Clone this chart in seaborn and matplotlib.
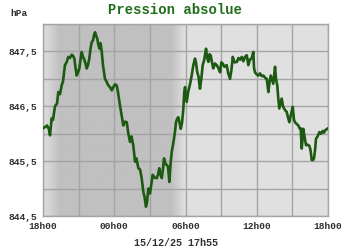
import numpy as np
import pandas as pd
import matplotlib
matplotlib.use("Agg")
import matplotlib.pyplot as plt
import seaborn as sns

# hours since 18h00 (15/12 17h55 reference span)
hours = [0.0, 0.17, 0.34, 0.5, 0.59, 0.73, 0.84, 1.01, 1.18, 1.29, 1.43, 1.57, 1.68, 1.85, 1.98,
         2.13, 2.27, 2.42, 2.53, 2.64, 2.74, 2.84, 2.95, 3.06, 3.16, 3.26, 3.37, 3.45, 3.58, 3.68,
         3.79, 3.90, 4.0, 4.10, 4.21, 4.30, 4.38, 4.46, 4.57, 4.66, 4.76, 4.84, 4.94, 5.05, 5.22,
         5.35, 5.50, 5.64, 5.79, 5.92, 6.06, 6.21, 6.32, 6.48, 6.61, 6.76, 6.91, 7.05, 7.19, 7.33,
         7.45, 7.60, 7.75, 7.87, 8.03, 8.17, 8.31, 8.45, 8.55, 8.67, 8.76, 8.87, 9.01, 9.14, 9.24,
         9.39, 9.58, 9.68, 9.79, 9.90, 10.0, 10.1, 10.19, 10.32, 10.42, 10.53, 10.64, 10.74, 10.84,
         10.95, 11.03, 11.12, 11.20, 11.31, 11.40, 11.50, 11.60, 11.71, 11.82, 11.89, 11.96, 12.10,
         12.24, 12.38, 12.52, 12.66, 12.80, 12.88, 12.99, 13.09, 13.22, 13.33, 13.45, 13.58, 13.73,
         13.81, 13.92, 14.02, 14.12, 14.23, 14.34, 14.48, 14.63, 14.76, 14.91, 15.02, 15.13, 15.28,
         15.47, 15.60, 15.75, 15.86, 15.98, 16.13, 16.33, 16.46, 16.60, 16.74, 16.87, 17.01, 17.16,
         17.29, 17.43, 17.58, 17.71, 17.77, 17.85, 18.0, 18.13, 18.27, 18.42, 18.56, 18.70, 18.84,
         18.98, 19.08, 19.18, 19.29, 19.39, 19.54, 19.62, 19.73, 19.81, 19.90, 20.0, 20.10, 20.21,
         20.30, 20.42, 20.52, 20.63, 20.74, 20.88, 21.03, 21.14, 21.22, 21.35, 21.50, 21.60, 21.70,
         21.79, 21.92, 22.02, 22.15, 22.27, 22.43, 22.53, 22.63, 22.74, 22.82, 22.91, 22.99, 23.12,
         23.27, 23.41, 23.56, 23.67, 23.75, 23.88, 24.0]
pressure = [846.10, 846.12, 846.15, 846.08, 845.97, 846.28, 846.25, 846.50, 846.55, 846.76, 846.72,
            846.88, 846.95, 847.25, 847.30, 847.40, 847.38, 847.44, 847.42, 847.37, 847.20, 847.06,
            847.12, 847.19, 847.35, 847.49, 847.40, 847.37, 847.28, 847.19, 847.25, 847.37, 847.55,
            847.67, 847.70, 847.80, 847.85, 847.80, 847.73, 847.62, 847.55, 847.65, 847.51, 847.25,
            847.00, 846.95, 846.88, 846.85, 846.79, 846.85, 846.90, 846.88, 846.75, 846.52, 846.35,
            846.15, 846.22, 846.21, 846.00, 845.85, 845.95, 845.79, 845.49, 845.55, 845.37, 845.35,
            845.19, 844.94, 844.85, 844.67, 844.75, 845.00, 844.91, 845.10, 845.25, 845.20, 845.19,
            845.25, 845.37, 845.25, 845.19, 845.35, 845.55, 845.45, 845.43, 845.40, 845.12, 845.45,
            845.67, 845.80, 845.91, 846.05, 846.21, 846.28, 846.30, 846.20, 846.09, 846.20, 846.46,
            846.75, 846.85, 846.58, 846.78, 846.90, 847.06, 847.25, 847.37, 847.30, 847.12, 847.05,
            846.82, 847.00, 847.25, 847.35, 847.55, 847.40, 847.31, 847.45, 847.43, 847.30, 847.19,
            847.28, 847.25, 847.20, 847.12, 847.30, 847.28, 847.22, 847.25, 847.10, 847.00, 847.15,
            847.40, 847.30, 847.31, 847.38, 847.35, 847.40, 847.32, 847.40, 847.43, 847.25, 847.35,
            847.38, 847.49, 847.20, 847.12, 847.08, 847.06, 847.10, 847.05, 847.06, 847.02, 847.00,
            846.76, 846.95, 847.06, 846.98, 846.91, 847.22, 847.00, 846.88, 846.65, 846.46, 846.55,
            846.64, 846.50, 846.46, 846.42, 846.40, 846.30, 846.21, 846.35, 846.49, 846.25, 846.21,
            846.18, 846.15, 846.10, 846.10, 845.73, 846.09, 845.95, 845.79, 845.80, 845.78, 845.70,
            845.52, 845.52, 845.55, 845.70, 845.91, 845.95, 846.03, 846.00, 846.05, 846.02, 846.06,
            846.08, 846.10]

x_tick_pos = [0, 6, 12, 18, 24]
x_tick_labels = ["18h00", "00h00", "06h00", "12h00", "18h00"]
y_tick_pos = [844.5, 845.5, 846.5, 847.5]
y_tick_labels = ["844,5", "845,5", "846,5", "847,5"]
title = "Pression absolue"
unit = "hPa"
stamp = "15/12/25 17h55"

df = pd.DataFrame({"h": hours, "p": pressure})

sns.set_theme(style="white")
plt.rcParams["font.family"] = ["Liberation Mono", "DejaVu Sans Mono"]
plt.rcParams["font.weight"] = "bold"

fig = plt.figure(figsize=(3.5, 2.5), dpi=100)
ax = fig.add_axes([43/350, 34/250, 285/350, 192/250])

day = np.array([0xe0, 0xe0, 0xe0]) / 255
night = np.array([0xc0, 0xc0, 0xc0]) / 255
xs = np.linspace(0, 24, 600)
w = np.zeros_like(xs)
w = np.where(xs < 1.4, xs / 1.4, w)
w = np.where((xs >= 1.4) & (xs < 10.8), 1.0, w)
w = np.where((xs >= 10.8) & (xs < 12.0), 1 - (xs - 10.8) / 1.2, w)
w = np.where(xs >= 12.0, 0.0, w)
img = (day[None, :] * (1 - w[:, None]) + night[None, :] * w[:, None])[None, :, :]
ax.imshow(img, extent=[0, 24, 844.5, 848.0], aspect="auto", zorder=0, interpolation="bilinear")

sns.lineplot(data=df, x="h", y="p", ax=ax, color="#1b5a10", linewidth=1.9, zorder=3)

ax.set_xlim(0, 24)
ax.set_ylim(844.5, 848.0)
ax.set_xticks(x_tick_pos)
ax.set_xticklabels(x_tick_labels)
ax.set_xticks(np.arange(0, 25, 3), minor=True)
ax.set_yticks(y_tick_pos)
ax.set_yticklabels(y_tick_labels)
ax.set_yticks(np.arange(844.5, 848.01, 0.5), minor=True)
ax.grid(True, which="both", color="#a4a4a4", linewidth=1.0, zorder=1)
for gl in ax.get_xgridlines() + ax.get_ygridlines():
    gl.set_zorder(1)
ax.tick_params(which="both", length=0, labelsize=6.8, labelcolor="#303030")
ax.tick_params(axis="y", pad=4)
ax.tick_params(axis="x", pad=4.5)
for lab in ax.get_xticklabels() + ax.get_yticklabels():
    lab.set_fontweight("bold")
ax.get_yticklabels()[0].set_va("center_baseline")
for s in ax.spines.values():
    s.set_color("#a4a4a4")
    s.set_linewidth(1.0)
ax.set_xlabel("")
ax.set_ylabel("")

fig.text(0.5, 1 - 10/250, title, ha="center", va="center", fontsize=10,
         color="#1f6e1a", fontweight="bold")
fig.text(10/350, 1 - 13/250, unit, ha="left", va="center", fontsize=6.8,
         color="#303030", fontweight="bold")
fig.text(176/350, 1 - 243/250, stamp, ha="center", va="center", fontsize=7.2,
         color="#303030", fontweight="bold")

fig.savefig("out.png", dpi=100)
